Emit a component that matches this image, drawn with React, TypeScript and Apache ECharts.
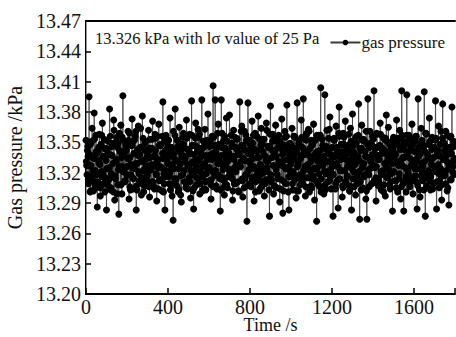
import React, { useEffect, useRef } from "react";
import * as echarts from "echarts";

const SAMPLE_STEP_S = 5 / 3;
const Y_TICKS = ["13.20", "13.23", "13.26", "13.29", "13.32", "13.35", "13.38", "13.41", "13.44", "13.47"];
const X_TICKS = [0, 400, 800, 1200, 1600];
const SERIES_NAME = "gas pressure";
const NOTE = "13.326 kPa with lσ value of 25 Pa";

// readings at t = 0, 5, 10, ... s
const pressureA: number[] = [
  13.352, 13.318, 13.336, 13.395, 13.301, 13.327, 13.364, 13.312, 13.379, 13.305, 13.341, 13.286, 13.332, 13.358, 13.297, 13.321, 13.369, 13.309, 13.344, 13.315,
  13.283, 13.338, 13.324, 13.383, 13.303, 13.349, 13.316, 13.372, 13.293, 13.331, 13.355, 13.308, 13.279, 13.342, 13.367, 13.299, 13.396, 13.321, 13.311, 13.347,
  13.326, 13.361, 13.294, 13.335, 13.318, 13.373, 13.304, 13.339, 13.356, 13.283, 13.329, 13.366, 13.312, 13.345, 13.298, 13.376, 13.322, 13.307, 13.351, 13.334,
  13.317, 13.362, 13.296, 13.343, 13.328, 13.371, 13.306, 13.337, 13.354, 13.292, 13.325, 13.368, 13.313, 13.348, 13.302, 13.390, 13.319, 13.283, 13.357, 13.333,
  13.346, 13.309, 13.374, 13.323, 13.297, 13.273, 13.339, 13.383, 13.314, 13.352, 13.301, 13.365, 13.328, 13.291, 13.344, 13.359, 13.311, 13.336, 13.372, 13.304,
  13.327, 13.358, 13.295, 13.391, 13.318, 13.284, 13.347, 13.369, 13.308, 13.333, 13.355, 13.299, 13.341, 13.392, 13.316, 13.326, 13.363, 13.303, 13.349, 13.378,
  13.312, 13.337, 13.294, 13.356, 13.406, 13.321, 13.392, 13.307, 13.345, 13.368, 13.329, 13.282, 13.392, 13.315, 13.351, 13.298, 13.339, 13.374, 13.305, 13.332,
  13.377, 13.319, 13.346, 13.293, 13.362, 13.325, 13.309, 13.354, 13.338, 13.301, 13.390, 13.331, 13.366, 13.296, 13.343, 13.314, 13.357, 13.272, 13.389, 13.323,
  13.348, 13.306, 13.371, 13.334, 13.292, 13.359, 13.317, 13.342, 13.376, 13.302, 13.328, 13.364, 13.311, 13.353, 13.297, 13.336, 13.369, 13.321, 13.345, 13.277,
  13.386, 13.313, 13.351, 13.299, 13.338, 13.367, 13.305, 13.327, 13.357, 13.291, 13.344, 13.373, 13.280, 13.332, 13.361, 13.309, 13.387, 13.324, 13.283, 13.349,
  13.316, 13.364, 13.303, 13.337, 13.355, 13.295, 13.389, 13.329, 13.346, 13.308, 13.372, 13.318, 13.393, 13.341, 13.297, 13.358, 13.326, 13.363, 13.301, 13.335,
  13.352, 13.314, 13.368, 13.293, 13.339, 13.272, 13.325, 13.357, 13.306, 13.404, 13.331, 13.347, 13.299, 13.397, 13.319, 13.362, 13.311, 13.343, 13.375, 13.304,
  13.328, 13.277, 13.354, 13.336, 13.366, 13.312, 13.285, 13.385, 13.322, 13.348, 13.296, 13.359, 13.307, 13.371, 13.333, 13.317, 13.345, 13.302, 13.364, 13.283,
  13.378, 13.321, 13.339, 13.298, 13.356, 13.313, 13.388, 13.274, 13.342, 13.367, 13.305, 13.329, 13.351, 13.294, 13.274, 13.393, 13.318, 13.361, 13.334, 13.309,
  13.346, 13.401, 13.325, 13.292, 13.358, 13.314, 13.337, 13.369, 13.303, 13.344, 13.322, 13.353, 13.297, 13.377, 13.331, 13.365, 13.308, 13.341, 13.319, 13.282,
  13.355, 13.312, 13.338, 13.372, 13.301, 13.327, 13.362, 13.294, 13.401, 13.335, 13.282, 13.348, 13.316, 13.397, 13.324, 13.357, 13.306, 13.343, 13.368, 13.299,
  13.332, 13.351, 13.311, 13.284, 13.393, 13.339, 13.296, 13.364, 13.321, 13.347, 13.400, 13.277, 13.358, 13.315, 13.336, 13.374, 13.303, 13.328, 13.353, 13.309,
  13.345, 13.391, 13.284, 13.337, 13.366, 13.312, 13.324, 13.293, 13.388, 13.349, 13.317, 13.361, 13.331, 13.305, 13.288, 13.342, 13.356, 13.385, 13.326, 13.346,
];

// readings at t = 1.67, 6.67, 11.67, ... s
const pressureB: number[] = [
  13.331, 13.342, 13.309, 13.327, 13.348, 13.316, 13.335, 13.302, 13.353, 13.322, 13.339, 13.311, 13.345, 13.328, 13.306, 13.357, 13.319, 13.336, 13.301, 13.344,
  13.324, 13.351, 13.313, 13.338, 13.305, 13.346, 13.329, 13.362, 13.317, 13.333, 13.299, 13.349, 13.326, 13.341, 13.308, 13.355, 13.321, 13.337, 13.312, 13.343,
  13.318, 13.334, 13.359, 13.303, 13.347, 13.325, 13.314, 13.352, 13.329, 13.307, 13.343, 13.321, 13.338, 13.364, 13.315, 13.332, 13.301, 13.349, 13.327, 13.312,
  13.339, 13.306, 13.353, 13.323, 13.344, 13.311, 13.336, 13.358, 13.319, 13.331, 13.304, 13.347, 13.326, 13.313, 13.356, 13.334, 13.309, 13.342, 13.322, 13.351,
  13.316, 13.337, 13.303, 13.345, 13.328, 13.361, 13.314, 13.333, 13.307, 13.352, 13.324, 13.341, 13.298, 13.336, 13.318, 13.348, 13.331, 13.305, 13.354, 13.327,
  13.343, 13.311, 13.329, 13.357, 13.302, 13.338, 13.321, 13.346, 13.315, 13.363, 13.332, 13.309, 13.344, 13.326, 13.351, 13.304, 13.337, 13.319, 13.333, 13.348,
  13.325, 13.352, 13.313, 13.339, 13.306, 13.347, 13.322, 13.335, 13.359, 13.318, 13.331, 13.303, 13.345, 13.328, 13.312, 13.356, 13.334, 13.308, 13.341, 13.323,
  13.336, 13.317, 13.349, 13.302, 13.333, 13.355, 13.321, 13.343, 13.311, 13.338, 13.326, 13.361, 13.314, 13.347, 13.305, 13.332, 13.352, 13.319, 13.339, 13.309,
  13.329, 13.344, 13.312, 13.357, 13.324, 13.301, 13.341, 13.335, 13.316, 13.353, 13.327, 13.306, 13.348, 13.322, 13.337, 13.313, 13.362, 13.331, 13.303, 13.346,
  13.318, 13.335, 13.358, 13.307, 13.342, 13.323, 13.351, 13.314, 13.331, 13.304, 13.346, 13.327, 13.339, 13.311, 13.355, 13.325, 13.343, 13.301, 13.337, 13.321,
  13.347, 13.309, 13.333, 13.356, 13.317, 13.341, 13.326, 13.302, 13.352, 13.334, 13.313, 13.345, 13.322, 13.338, 13.306, 13.359, 13.328, 13.315, 13.344, 13.331,
  13.305, 13.349, 13.324, 13.337, 13.312, 13.357, 13.331, 13.319, 13.342, 13.301, 13.353, 13.327, 13.336, 13.308, 13.346, 13.321, 13.339, 13.363, 13.316, 13.333,
  13.345, 13.318, 13.352, 13.304, 13.329, 13.341, 13.313, 13.356, 13.337, 13.322, 13.307, 13.348, 13.334, 13.311, 13.343, 13.326, 13.358, 13.302, 13.339, 13.324,
  13.314, 13.347, 13.331, 13.355, 13.309, 13.336, 13.321, 13.344, 13.303, 13.352, 13.328, 13.316, 13.341, 13.361, 13.319, 13.335, 13.306, 13.349, 13.325, 13.338,
  13.353, 13.312, 13.338, 13.326, 13.345, 13.307, 13.333, 13.358, 13.318, 13.342, 13.301, 13.329, 13.354, 13.315, 13.337, 13.323, 13.348, 13.311, 13.336, 13.344,
  13.321, 13.339, 13.305, 13.351, 13.328, 13.314, 13.346, 13.332, 13.357, 13.309, 13.343, 13.325, 13.301, 13.337, 13.319, 13.352, 13.334, 13.313, 13.347, 13.327,
  13.341, 13.317, 13.356, 13.324, 13.336, 13.303, 13.348, 13.329, 13.312, 13.345, 13.331, 13.359, 13.307, 13.338, 13.322, 13.351, 13.316, 13.343, 13.304, 13.335,
  13.326, 13.354, 13.311, 13.342, 13.319, 13.337, 13.361, 13.308, 13.333, 13.349, 13.321, 13.344, 13.302, 13.339, 13.327, 13.355, 13.313, 13.346, 13.331, 13.318,
];

// readings at t = 3.33, 8.33, 13.33, ... s
const pressureC: number[] = [
  13.327, 13.346, 13.313, 13.338, 13.302, 13.351, 13.322, 13.334, 13.309, 13.357, 13.318, 13.341, 13.329, 13.305, 13.348, 13.316, 13.336, 13.353, 13.311, 13.332,
  13.343, 13.307, 13.325, 13.356, 13.319, 13.337, 13.301, 13.349, 13.314, 13.331, 13.345, 13.323, 13.359, 13.308, 13.335, 13.326, 13.352, 13.312, 13.341, 13.317,
  13.334, 13.352, 13.306, 13.328, 13.347, 13.315, 13.339, 13.324, 13.361, 13.303, 13.337, 13.319, 13.344, 13.331, 13.309, 13.354, 13.323, 13.342, 13.314, 13.336,
  13.321, 13.344, 13.335, 13.311, 13.353, 13.327, 13.304, 13.342, 13.318, 13.356, 13.333, 13.312, 13.347, 13.325, 13.339, 13.301, 13.351, 13.316, 13.338, 13.329,
  13.352, 13.319, 13.341, 13.308, 13.336, 13.324, 13.357, 13.313, 13.345, 13.331, 13.303, 13.349, 13.317, 13.338, 13.355, 13.322, 13.334, 13.306, 13.343, 13.312,
  13.315, 13.339, 13.322, 13.347, 13.331, 13.305, 13.354, 13.326, 13.341, 13.313, 13.358, 13.321, 13.336, 13.302, 13.345, 13.329, 13.311, 13.352, 13.324, 13.337,
  13.346, 13.308, 13.333, 13.321, 13.355, 13.317, 13.341, 13.304, 13.329, 13.348, 13.314, 13.337, 13.359, 13.323, 13.306, 13.344, 13.328, 13.351, 13.316, 13.339,
  13.323, 13.357, 13.314, 13.336, 13.309, 13.345, 13.328, 13.353, 13.302, 13.339, 13.326, 13.347, 13.312, 13.334, 13.361, 13.318, 13.342, 13.307, 13.331, 13.352,
  13.338, 13.315, 13.349, 13.326, 13.343, 13.311, 13.356, 13.322, 13.335, 13.304, 13.347, 13.319, 13.341, 13.353, 13.309, 13.332, 13.325, 13.346, 13.314, 13.358,
  13.311, 13.342, 13.327, 13.354, 13.306, 13.336, 13.318, 13.345, 13.329, 13.351, 13.313, 13.338, 13.302, 13.347, 13.324, 13.356, 13.333, 13.316, 13.344, 13.328,
  13.339, 13.321, 13.356, 13.313, 13.344, 13.302, 13.331, 13.349, 13.318, 13.337, 13.355, 13.309, 13.342, 13.326, 13.352, 13.315, 13.338, 13.361, 13.322, 13.307,
  13.347, 13.317, 13.334, 13.352, 13.324, 13.341, 13.308, 13.336, 13.357, 13.314, 13.329, 13.346, 13.321, 13.303, 13.343, 13.331, 13.354, 13.312, 13.338, 13.325,
  13.319, 13.352, 13.337, 13.309, 13.345, 13.326, 13.359, 13.314, 13.333, 13.341, 13.305, 13.355, 13.322, 13.338, 13.316, 13.347, 13.329, 13.307, 13.351, 13.334,
  13.341, 13.306, 13.328, 13.349, 13.316, 13.357, 13.332, 13.311, 13.344, 13.325, 13.353, 13.318, 13.336, 13.302, 13.348, 13.323, 13.345, 13.331, 13.309, 13.356,
  13.327, 13.344, 13.315, 13.359, 13.333, 13.312, 13.347, 13.321, 13.339, 13.355, 13.308, 13.342, 13.326, 13.351, 13.317, 13.334, 13.304, 13.346, 13.329, 13.352,
  13.336, 13.348, 13.312, 13.331, 13.354, 13.319, 13.343, 13.306, 13.327, 13.351, 13.335, 13.313, 13.357, 13.322, 13.341, 13.309, 13.346, 13.328, 13.353, 13.316,
  13.324, 13.356, 13.331, 13.307, 13.345, 13.338, 13.317, 13.352, 13.326, 13.303, 13.341, 13.359, 13.319, 13.335, 13.348, 13.312, 13.333, 13.355, 13.321, 13.344,
  13.352, 13.321, 13.339, 13.328, 13.305, 13.348, 13.316, 13.354, 13.333, 13.342, 13.309, 13.337, 13.357, 13.324, 13.345, 13.313, 13.339, 13.321, 13.351, 13.334,
];

const FONT = "'Liberation Serif', 'Times New Roman', serif";

export default function App() {
  const ref = useRef<HTMLDivElement>(null);
  useEffect(() => {
    if (!ref.current) return;
    const chart = echarts.init(ref.current, undefined, { renderer: "svg" });
    const yMin = parseFloat(Y_TICKS[0]);
    const yMax = parseFloat(Y_TICKS[Y_TICKS.length - 1]);
    const data: number[][] = [];
    pressureA.forEach((v, i) => {
      data.push([3 * i * SAMPLE_STEP_S, v]);
      data.push([(3 * i + 1) * SAMPLE_STEP_S, pressureB[i]]);
      data.push([(3 * i + 2) * SAMPLE_STEP_S, pressureC[i]]);
    });
    chart.setOption({
      animation: false,
      backgroundColor: "#fff",
      textStyle: { fontFamily: FONT },
      grid: { left: 86, right: 1, top: 21, bottom: 43, containLabel: false, outerBoundsMode: "none" },
      legend: {
        data: [SERIES_NAME],
        right: 6,
        top: 29,
        itemWidth: 30,
        itemHeight: 7,
        itemGap: 4,
        textStyle: { fontFamily: FONT, fontSize: 17, color: "#111", padding: [0, 0, 0, -4] },
      },
      graphic: [
        {
          type: "text",
          left: 95,
          top: 30,
          style: {
            text: NOTE,
            font: `16.5px ${FONT}`,
            fill: "#111",
          },
        },
      ],
      xAxis: [
        {
          type: "value",
          min: 0,
          max: 1800,
          interval: 400,
          name: "Time /s",
          nameLocation: "middle",
          nameGap: 22,
          nameMoveOverlap: false,
          nameTextStyle: { fontFamily: FONT, fontSize: 18, lineHeight: 18, color: "#111" },
          axisLine: { show: true, onZero: false, lineStyle: { color: "#000", width: 2 } },
          axisTick: { show: true, inside: true, length: 6, lineStyle: { color: "#000", width: 1.5 } },
          axisLabel: {
            fontFamily: FONT,
            fontSize: 20,
            lineHeight: 18,
            color: "#111",
            margin: 4,
            formatter: (v: number) => (X_TICKS.includes(v) ? String(v) : ""),
          },
          splitLine: { show: false },
        },
        {
          type: "value",
          position: "top",
          min: 0,
          max: 1800,
          axisLine: { show: true, lineStyle: { color: "#000", width: 2 } },
          axisTick: { show: false },
          axisLabel: { show: false },
          splitLine: { show: false },
        },
      ],
      yAxis: [
        {
          type: "value",
          min: yMin,
          max: yMax,
          interval: 0.03,
          name: "Gas pressure /kPa",
          nameLocation: "middle",
          nameGap: 60,
          nameTextStyle: { fontFamily: FONT, fontSize: 20, color: "#111" },
          axisLine: { show: true, onZero: false, lineStyle: { color: "#000", width: 2 } },
          axisTick: { show: true, inside: true, length: 5, lineStyle: { color: "#000", width: 1.5 } },
          axisLabel: {
            fontFamily: FONT,
            fontSize: 20,
            color: "#111",
            margin: 5,
            formatter: (v: number) => v.toFixed(2),
          },
          splitLine: { show: false },
        },
        {
          type: "value",
          position: "right",
          min: yMin,
          max: yMax,
          axisLine: { show: true, lineStyle: { color: "#999", width: 1 } },
          axisTick: { show: false },
          axisLabel: { show: false },
          splitLine: { show: false },
        },
      ],
      series: [
        {
          name: SERIES_NAME,
          type: "line",
          xAxisIndex: 0,
          yAxisIndex: 0,
          data,
          symbol: "circle",
          symbolSize: 7,
          showAllSymbol: true,
          itemStyle: { color: "#000" },
          lineStyle: { color: "#3a3a3a", width: 0.8 },
          emphasis: { disabled: true },
        },
      ],
    });
    return () => chart.dispose();
  }, []);
  return <div ref={ref} style={{ width: 456, height: 337, position: "absolute", left: 0, top: 0 }} />;
}
